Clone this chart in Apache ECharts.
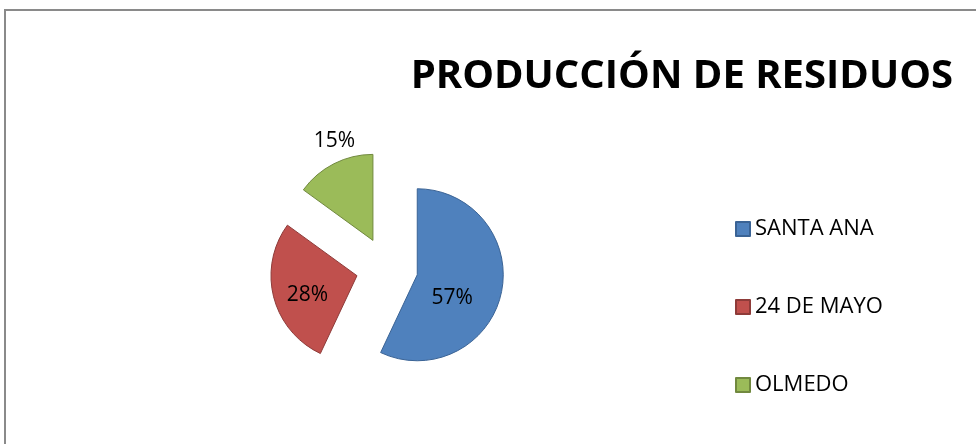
<!DOCTYPE html>
<html>
<head>
<meta charset="utf-8">
<script src="https://cdn.jsdelivr.net/npm/echarts@6/dist/echarts.min.js"></script>
<style>
  html, body { margin: 0; padding: 0; background: #fff; }
  #main { width: 976px; height: 444px; }
</style>
</head>
<body>
<div id="main"></div>
<script>
var titulo = 'PRODUCCIÓN DE RESIDUOS';
var lugares = ['SANTA ANA', '24 DE MAYO', 'OLMEDO'];
var porcentajes = [57, 28, 15];
var colores = ['#4F81BD', '#C0504D', '#9BBB59'];
var bordes = ['#3A6395', '#8E3B39', '#71893F'];

var fuente = '"Open Sans", Lato, sans-serif';

var datos = [];
for (var i = 0; i < lugares.length; i++) {
	datos.push({
		name: lugares[i],
		value: porcentajes[i],
		selected: true,
		itemStyle: { color: colores[i], borderColor: bordes[i] }
	});
}
// saltos de linea y padding para colocar las etiquetas como en excel
datos[0].label = { formatter: '\n{c}%', lineHeight: 26, padding: [0, 20, 0, 0] };
datos[1].label = { formatter: '\n{c}%', lineHeight: 16, padding: [0, 10, 0, 0] };
// la de OLMEDO queda fuera, encima del sector
datos[2].label = { position: 'outside', padding: [0, -38, 0, 0] };
datos[2].labelLine = { show: false, length: 26, length2: 0 };

var myChart = echarts.init(document.getElementById('main'));
var option = {
	backgroundColor: '#ffffff',
	animation: false,
	graphic: [{
		type: 'rect',
		shape: { x: 5, y: 10, width: 1100, height: 600 },
		style: { fill: 'none', stroke: '#8a8a8a', lineWidth: 2 },
		silent: true
	}],
	title: {
		text: titulo,
		right: 18,
		top: 52,
		textStyle: { fontFamily: fuente, fontWeight: 'bold', fontSize: 40, color: '#000' }
	},
	legend: {
		orient: 'vertical',
		left: 730,
		top: 213,
		itemWidth: 14,
		itemHeight: 14,
		itemGap: 56,
		icon: 'rect',
		data: lugares,
		textStyle: { fontFamily: fuente, fontSize: 22, color: '#000' }
	},
	series: [{
		type: 'pie',
		center: [387, 268],
		radius: 86,
		startAngle: 90,
		clockwise: true,
		selectedMode: 'multiple',
		selectedOffset: 31,
		emphasis: { disabled: true },
		itemStyle: { borderWidth: 1 },
		label: {
			show: true,
			position: 'inside',
			formatter: '{c}%',
			fontFamily: fuente,
			fontSize: 21,
			color: '#000'
		},
		data: datos
	}]
};
myChart.setOption(option);
</script>
</body>
</html>
